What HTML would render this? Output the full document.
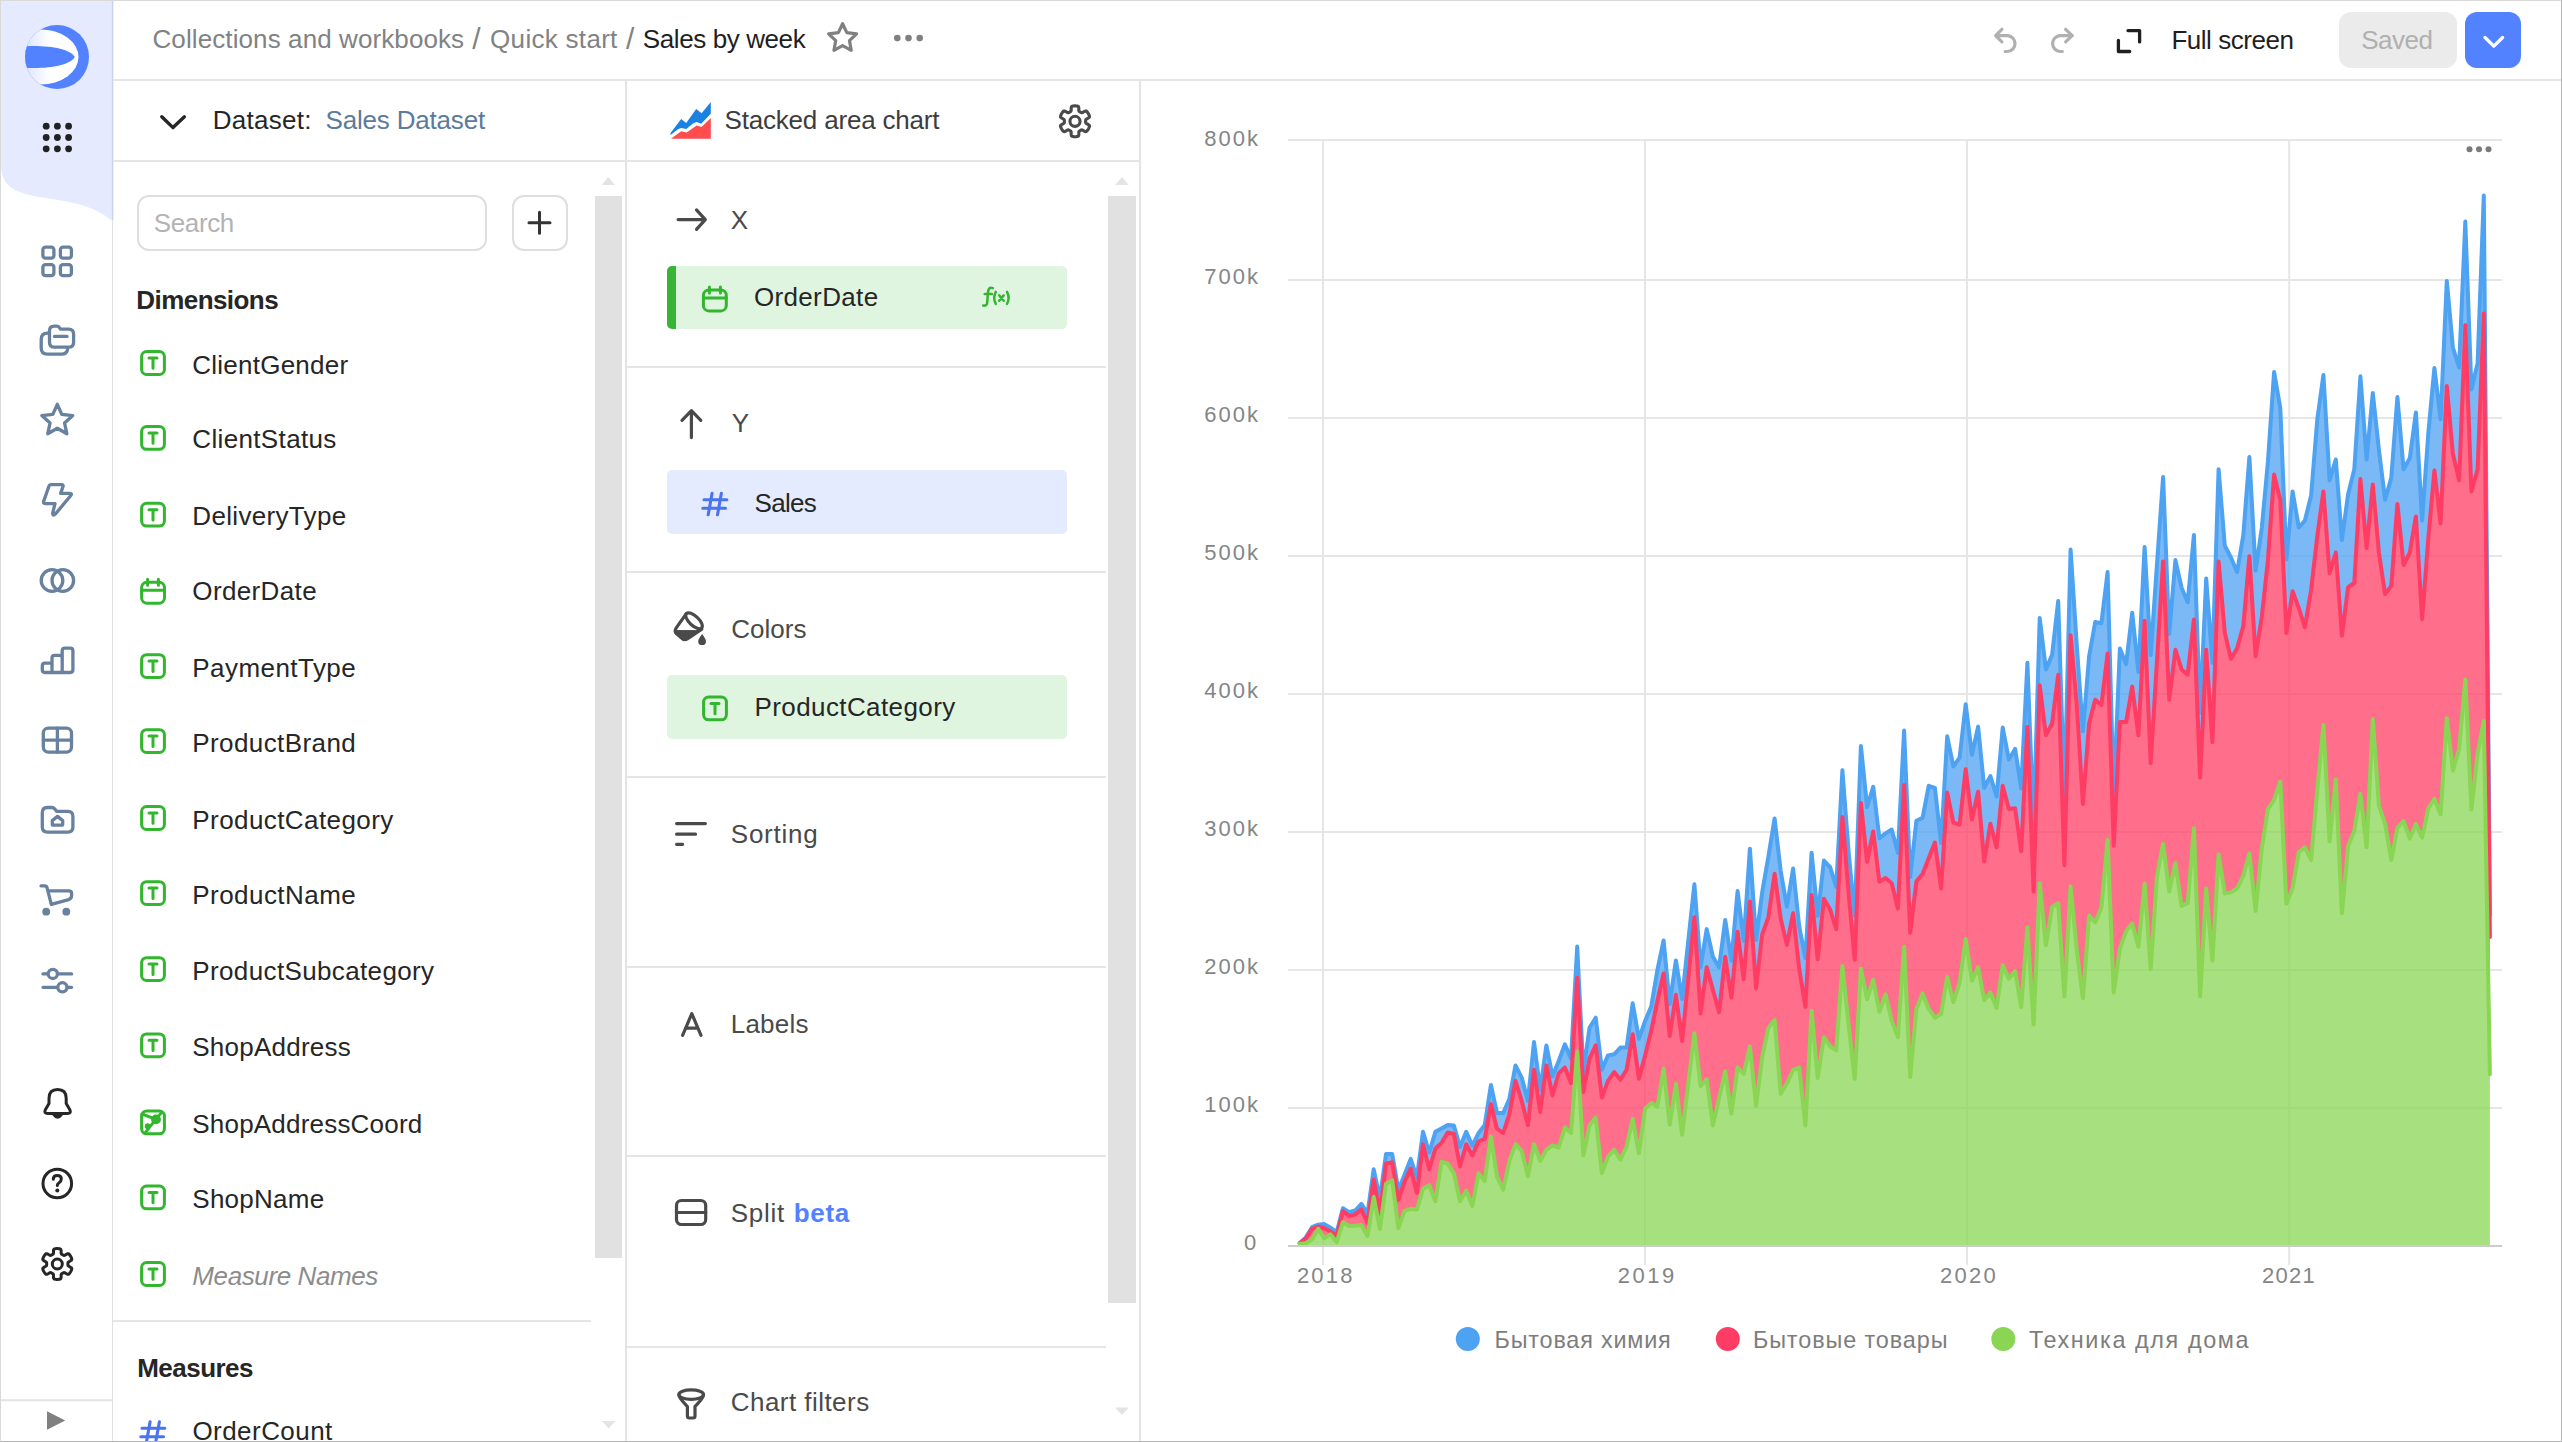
<!DOCTYPE html>
<html lang="en"><head><meta charset="utf-8"><title>Sales by week</title>
<style>
html,body{margin:0;padding:0;background:#fff}
body{width:2562px;height:1442px;overflow:hidden;font-family:"Liberation Sans",sans-serif}
#app{position:relative;width:2562px;height:1442px;overflow:hidden;background:#fff}
#app aside,#app header,#app section,#app main{position:static;display:block;margin:0;padding:0}
#app div,#app span,#app svg{position:absolute}
.t{white-space:nowrap;margin:0;padding:0}
svg.ic{overflow:visible}
.vline{top:81px;width:2px;height:1361px;background:#e3e3e3}
#railline{left:111.7px;top:0;width:1.7px;height:1442px;background:#e0e0e0}
#topline{left:113px;top:79px;width:2449px;height:2px;background:#e5e5e5}
#hdrline{left:113px;top:160px;width:1027px;height:2px;background:#e5e5e5}
#saved{left:2339px;top:12px;width:118px;height:56px;border-radius:12px;background:#ebebeb}
#savemore{left:2465px;top:12px;width:56px;height:56px;border-radius:12px;background:#5282ff}
#search{left:137px;top:195px;width:350px;height:56px;border-radius:12px;border:2px solid #dedede;box-sizing:border-box;background:#fff}
#addbtn{left:512px;top:195px;width:56px;height:56px;border-radius:12px;border:2px solid #dedede;box-sizing:border-box;background:#fff}
#frame{left:0;top:0;width:2562px;height:1442px;box-sizing:border-box;border:1px solid #d9d9d7;border-right-color:#b5b5b5;border-bottom-color:#b5b5b5;pointer-events:none}
</style></head>
<body>
<div id="app">
<aside id="rail">
<div id="railline"></div>
<svg class="ic" style="left:0;top:0" width="113" height="230" viewBox="0 0 113 230"><path d="M0,0H111.7V220.5C97,208 78,203 52,199C26,195 1,192 1,166V0Z" fill="#e5eaff"/><rect x="111.7" y="0" width="1.7" height="220" fill="#cdd3ea"/></svg>
</aside>
<header id="topbar">
<div id="topline"></div>
<span id="t0" class="t " style="left:152.5px;top:26.4px;font-size:26px;line-height:26px;color:#808285;letter-spacing:0.098px;">Collections and workbooks</span>
<span id="t1" class="t " style="left:472.2px;top:24.4px;font-size:30px;line-height:30px;color:#808285;">/</span>
<span id="t2" class="t " style="left:490.1px;top:26.4px;font-size:26px;line-height:26px;color:#808285;letter-spacing:0.299px;">Quick start</span>
<span id="t3" class="t " style="left:625.9px;top:24.4px;font-size:30px;line-height:30px;color:#808285;">/</span>
<span id="t4" class="t " style="left:642.8px;top:26.4px;font-size:26px;line-height:26px;color:#1f1f1f;letter-spacing:-0.401px;">Sales by week</span>
<span id="t5" class="t " style="left:2171.4px;top:27.1px;font-size:26px;line-height:26px;color:#1f1f1f;letter-spacing:-0.462px;">Full screen</span>
<div id="saved"></div>
<span id="t6" class="t " style="left:2361.3px;top:27.1px;font-size:26px;line-height:26px;color:#b0b0b0;letter-spacing:-0.524px;">Saved</span>
<div id="savemore"></div>
</header>
<section id="dataset">
<div class="vline" style="left:625px"></div>
<span id="t7" class="t " style="left:212.7px;top:106.8px;font-size:26px;line-height:26px;color:#262626;letter-spacing:0.273px;">Dataset:</span>
<span id="t8" class="t " style="left:325.5px;top:106.8px;font-size:26px;line-height:26px;color:#5a7b9c;letter-spacing:-0.186px;">Sales Dataset</span>
<div id="search"></div>
<span id="t9" class="t " style="left:153.8px;top:210.1px;font-size:26px;line-height:26px;color:#b3b3b3;letter-spacing:-0.370px;">Search</span>
<div id="addbtn"></div>
<span id="t10" class="t " style="left:136.3px;top:286.9px;font-size:26px;line-height:26px;color:#262626;font-weight:700;letter-spacing:-0.559px;">Dimensions</span>
<span id="t11" class="t " style="left:192.3px;top:351.5px;font-size:26px;line-height:26px;color:#262626;letter-spacing:0.240px;">ClientGender</span>
<span id="t12" class="t " style="left:192.3px;top:426.4px;font-size:26px;line-height:26px;color:#262626;letter-spacing:0.350px;">ClientStatus</span>
<span id="t13" class="t " style="left:192.3px;top:503.2px;font-size:26px;line-height:26px;color:#262626;letter-spacing:0.324px;">DeliveryType</span>
<span id="t14" class="t " style="left:192.3px;top:577.7px;font-size:26px;line-height:26px;color:#262626;letter-spacing:0.369px;">OrderDate</span>
<span id="t15" class="t " style="left:192.3px;top:654.6px;font-size:26px;line-height:26px;color:#262626;letter-spacing:0.446px;">PaymentType</span>
<span id="t16" class="t " style="left:192.3px;top:729.6px;font-size:26px;line-height:26px;color:#262626;letter-spacing:0.405px;">ProductBrand</span>
<span id="t17" class="t " style="left:192.3px;top:806.5px;font-size:26px;line-height:26px;color:#262626;letter-spacing:0.416px;">ProductCategory</span>
<span id="t18" class="t " style="left:192.3px;top:881.6px;font-size:26px;line-height:26px;color:#262626;letter-spacing:0.447px;">ProductName</span>
<span id="t19" class="t " style="left:192.3px;top:957.6px;font-size:26px;line-height:26px;color:#262626;letter-spacing:0.367px;">ProductSubcategory</span>
<span id="t20" class="t " style="left:192.3px;top:1033.8px;font-size:26px;line-height:26px;color:#262626;letter-spacing:0.233px;">ShopAddress</span>
<span id="t21" class="t " style="left:192.3px;top:1110.5px;font-size:26px;line-height:26px;color:#262626;letter-spacing:0.201px;">ShopAddressCoord</span>
<span id="t22" class="t " style="left:192.3px;top:1185.9px;font-size:26px;line-height:26px;color:#262626;letter-spacing:0.252px;">ShopName</span>
<span id="t23" class="t " style="left:192.3px;top:1262.5px;font-size:26px;line-height:26px;color:#8c8c8c;font-style:italic;letter-spacing:-0.391px;">Measure Names</span>
<div style="left:113px;top:1319.5px;width:478px;height:2px;background:#e5e5e5"></div>
<span id="t24" class="t " style="left:137.2px;top:1354.5px;font-size:26px;line-height:26px;color:#262626;font-weight:700;letter-spacing:-0.518px;">Measures</span>
<span id="t25" class="t " style="left:192.4px;top:1417.5px;font-size:26px;line-height:26px;color:#262626;letter-spacing:0.455px;">OrderCount</span>
<div style="left:594.5px;top:196px;width:27.5px;height:1061.5px;background:#e1e1e1"></div>
</section>
<section id="viz">
<div class="vline" style="left:1139px"></div>
<span id="t26" class="t " style="left:724.5px;top:107.0px;font-size:26px;line-height:26px;color:#3d3d3d;letter-spacing:-0.188px;">Stacked area chart</span>
<span id="t27" class="t " style="left:730.8px;top:206.6px;font-size:26px;line-height:26px;color:#4a4a4a;">X</span>
<div style="left:667px;top:266px;width:400px;height:63px;background:#e0f5e0;border-radius:5px;border-left:9px solid #38b538;box-sizing:border-box"></div>
<span id="t28" class="t " style="left:753.9px;top:284.4px;font-size:26px;line-height:26px;color:#262626;letter-spacing:0.356px;">OrderDate</span>
<span id="t29" class="t " style="left:731.8px;top:410.4px;font-size:26px;line-height:26px;color:#4a4a4a;">Y</span>
<div style="left:667px;top:470px;width:400px;height:64px;background:#e5ebff;border-radius:5px"></div>
<span id="t30" class="t " style="left:754.5px;top:490.0px;font-size:26px;line-height:26px;color:#262626;letter-spacing:-0.677px;">Sales</span>
<span id="t31" class="t " style="left:731.2px;top:615.8px;font-size:26px;line-height:26px;color:#4a4a4a;letter-spacing:0.020px;">Colors</span>
<div style="left:667px;top:675px;width:400px;height:64px;background:#e0f5e0;border-radius:5px"></div>
<span id="t32" class="t " style="left:754.5px;top:694.4px;font-size:26px;line-height:26px;color:#262626;letter-spacing:0.402px;">ProductCategory</span>
<span id="t33" class="t " style="left:730.8px;top:820.9px;font-size:26px;line-height:26px;color:#4a4a4a;letter-spacing:0.742px;">Sorting</span>
<span id="t34" class="t " style="left:730.8px;top:1010.5px;font-size:26px;line-height:26px;color:#4a4a4a;letter-spacing:0.203px;">Labels</span>
<span id="t35" class="t " style="left:730.8px;top:1200.1px;font-size:26px;line-height:26px;color:#4a4a4a;letter-spacing:0.690px;">Split</span>
<span id="t36" class="t " style="left:793.8px;top:1200.1px;font-size:26px;line-height:26px;color:#5282ff;font-weight:700;letter-spacing:0.690px;">beta</span>
<span id="t37" class="t " style="left:730.8px;top:1389.3px;font-size:26px;line-height:26px;color:#4a4a4a;letter-spacing:0.452px;">Chart filters</span>
<div style="left:627px;top:366px;width:478.5px;height:2px;background:#e5e5e5"></div>
<div style="left:627px;top:571px;width:478.5px;height:2px;background:#e5e5e5"></div>
<div style="left:627px;top:775.5px;width:478.5px;height:2px;background:#e5e5e5"></div>
<div style="left:627px;top:966px;width:478.5px;height:2px;background:#e5e5e5"></div>
<div style="left:627px;top:1155px;width:478.5px;height:2px;background:#e5e5e5"></div>
<div style="left:627px;top:1345.5px;width:478.5px;height:2px;background:#e5e5e5"></div>
<div style="left:1108px;top:196px;width:28px;height:1106.5px;background:#e1e1e1"></div>
</section>
<main id="chart">
<svg id="plot" style="left:1142px;top:82px" width="1418" height="1358" viewBox="1142 82 1418 1358">
<path d="M1288,140.0H2502" stroke="#e6e6e6" stroke-width="2"/>
<path d="M1288,280.0H2502" stroke="#e6e6e6" stroke-width="2"/>
<path d="M1288,418.0H2502" stroke="#e6e6e6" stroke-width="2"/>
<path d="M1288,556.0H2502" stroke="#e6e6e6" stroke-width="2"/>
<path d="M1288,694.0H2502" stroke="#e6e6e6" stroke-width="2"/>
<path d="M1288,832.0H2502" stroke="#e6e6e6" stroke-width="2"/>
<path d="M1288,970.0H2502" stroke="#e6e6e6" stroke-width="2"/>
<path d="M1288,1108.0H2502" stroke="#e6e6e6" stroke-width="2"/>
<path d="M1323,141V1265" stroke="#e6e6e6" stroke-width="2"/>
<path d="M1645,141V1265" stroke="#e6e6e6" stroke-width="2"/>
<path d="M1967,141V1265" stroke="#e6e6e6" stroke-width="2"/>
<path d="M2289.2,141V1265" stroke="#e6e6e6" stroke-width="2"/>
<polygon points="1299.7,1243.0 1305.9,1237.4 1312.0,1227.2 1318.2,1224.7 1324.4,1224.1 1330.5,1227.7 1336.7,1232.2 1342.9,1208.3 1349.0,1212.2 1355.2,1210.5 1361.4,1203.9 1367.5,1213.8 1373.7,1169.3 1379.9,1198.4 1386.0,1154.0 1392.2,1154.0 1398.4,1190.0 1404.5,1174.8 1410.7,1158.9 1416.9,1177.6 1423.0,1131.8 1429.2,1152.6 1435.4,1131.8 1441.5,1128.4 1447.7,1124.9 1453.9,1125.6 1460.0,1147.1 1466.2,1131.8 1472.4,1145.7 1478.5,1133.2 1484.7,1125.0 1490.9,1085.0 1497.0,1113.1 1503.2,1113.1 1509.4,1098.7 1515.5,1065.4 1521.7,1077.6 1527.9,1100.9 1534.0,1042.1 1540.2,1089.8 1546.4,1045.4 1552.5,1076.5 1558.7,1061.0 1564.9,1044.3 1571.0,1058.7 1577.2,946.6 1583.4,1072.1 1589.5,1027.7 1595.7,1017.7 1601.9,1069.8 1608.0,1055.4 1614.2,1054.3 1620.4,1047.6 1626.6,1047.6 1632.7,1003.3 1638.9,1038.8 1645.1,1021.0 1651.2,1006.6 1657.4,970.0 1663.6,940.5 1669.7,1004.0 1675.9,960.4 1682.1,999.0 1688.2,941.5 1694.4,884.3 1700.6,967.3 1706.7,929.1 1712.9,956.8 1719.1,967.3 1725.2,919.9 1731.4,960.7 1737.6,890.9 1743.7,941.0 1749.9,848.7 1756.1,939.7 1762.2,892.2 1768.4,856.7 1774.6,818.4 1780.7,871.1 1786.9,906.7 1793.1,868.5 1799.2,926.5 1805.4,958.1 1811.6,852.7 1817.7,915.9 1823.9,860.6 1830.1,867.2 1836.2,887.0 1842.4,770.3 1848.6,852.0 1854.7,915.9 1860.9,746.0 1867.1,807.2 1873.2,786.8 1879.4,838.3 1885.6,833.4 1891.7,829.5 1897.9,852.8 1904.1,730.5 1910.2,877.1 1916.4,820.8 1922.6,817.9 1928.7,785.8 1934.9,787.8 1941.1,843.1 1947.2,736.3 1953.4,766.4 1959.6,757.7 1965.7,704.3 1971.9,754.8 1978.1,726.6 1984.2,787.8 1990.4,776.1 1996.6,796.5 2002.7,727.6 2008.9,759.6 2015.1,748.9 2021.2,788.4 2027.4,662.8 2033.6,826.0 2039.7,618.1 2045.9,669.4 2052.1,654.9 2058.2,600.9 2064.4,796.0 2070.6,549.6 2076.7,644.4 2082.9,731.3 2089.1,656.3 2095.2,622.0 2101.4,623.3 2107.6,572.0 2113.7,796.3 2119.9,648.4 2126.1,664.2 2132.2,612.8 2138.4,672.1 2144.6,546.9 2150.7,655.0 2156.9,565.4 2163.1,477.1 2169.2,633.9 2175.4,560.1 2181.6,587.8 2187.7,602.3 2193.9,535.1 2200.1,713.0 2206.2,578.5 2212.4,662.8 2218.6,469.2 2224.8,545.6 2230.9,557.5 2237.1,572.0 2243.3,535.1 2249.4,457.0 2255.6,570.6 2261.8,528.0 2267.9,462.0 2274.1,372.1 2280.3,408.2 2286.4,559.4 2292.6,491.5 2298.8,527.5 2304.9,520.6 2311.1,495.6 2317.3,419.3 2323.4,374.9 2329.6,480.4 2335.8,459.5 2341.9,540.0 2348.1,494.2 2354.3,469.3 2360.4,376.3 2366.6,459.5 2372.8,393.0 2378.9,449.8 2385.1,499.8 2391.3,477.6 2397.4,397.1 2403.6,469.3 2409.8,458.2 2415.9,412.4 2422.1,520.6 2428.3,433.2 2434.4,368.0 2440.6,419.3 2446.8,280.9 2452.9,347.5 2459.1,367.5 2465.3,221.6 2471.4,389.4 2477.6,363.4 2483.8,195.6 2489.9,915.0 2489.9,937.0 2483.8,313.5 2477.6,469.3 2471.4,491.5 2465.3,325.0 2459.1,480.4 2452.9,454.0 2446.8,386.0 2440.6,523.4 2434.4,470.6 2428.3,538.6 2422.1,619.1 2415.9,516.4 2409.8,552.5 2403.6,565.0 2397.4,503.9 2391.3,585.8 2385.1,594.1 2378.9,552.5 2372.8,484.5 2366.6,548.3 2360.4,479.0 2354.3,583.0 2348.1,587.2 2341.9,635.7 2335.8,552.5 2329.6,573.3 2323.4,491.5 2317.3,535.9 2311.1,590.0 2304.9,627.4 2298.8,608.0 2292.6,591.3 2286.4,633.0 2280.3,500.0 2274.1,474.6 2267.9,560.5 2261.8,617.0 2255.6,656.3 2249.4,556.2 2243.3,626.0 2237.1,648.4 2230.9,658.9 2224.8,632.5 2218.6,561.4 2212.4,742.0 2206.2,649.7 2200.1,777.6 2193.9,619.4 2187.7,674.7 2181.6,669.4 2175.4,649.7 2169.2,699.7 2163.1,561.4 2156.9,662.0 2150.7,763.2 2144.6,620.7 2138.4,735.3 2132.2,686.6 2126.1,722.1 2119.9,722.1 2113.7,845.8 2107.6,653.6 2101.4,705.0 2095.2,699.7 2089.1,723.4 2082.9,804.0 2076.7,703.7 2070.6,635.2 2064.4,865.2 2058.2,674.7 2052.1,723.4 2045.9,735.3 2039.7,685.2 2033.6,891.6 2027.4,727.0 2021.2,851.3 2015.1,808.2 2008.9,809.1 2002.7,785.8 1996.6,847.4 1990.4,823.7 1984.2,861.5 1978.1,791.7 1971.9,819.8 1965.7,769.3 1959.6,824.7 1953.4,822.7 1947.2,792.6 1941.1,888.6 1934.9,842.5 1928.7,858.3 1922.6,874.0 1916.4,881.3 1910.2,932.8 1904.1,784.9 1897.9,908.5 1891.7,883.3 1885.6,878.0 1879.4,881.8 1873.2,831.5 1867.1,861.9 1860.9,803.0 1854.7,959.8 1848.6,893.0 1842.4,817.0 1836.2,929.1 1830.1,909.4 1823.9,898.8 1817.7,959.4 1811.6,894.9 1805.4,1006.9 1799.2,968.6 1793.1,913.3 1786.9,944.9 1780.7,918.6 1774.6,873.8 1768.4,917.3 1762.2,934.4 1756.1,988.4 1749.9,901.4 1743.7,979.2 1737.6,931.8 1731.4,997.6 1725.2,956.8 1719.1,1012.1 1712.9,989.7 1706.7,967.3 1700.6,1013.4 1694.4,917.3 1688.2,979.2 1682.1,1041.1 1675.9,994.7 1669.7,1036.0 1663.6,973.5 1657.4,1001.0 1651.2,1031.0 1645.1,1055.4 1638.9,1078.7 1632.7,1034.3 1626.6,1069.8 1620.4,1079.8 1614.2,1072.1 1608.0,1080.9 1601.9,1097.6 1595.7,1045.4 1589.5,1058.7 1583.4,1092.0 1577.2,977.7 1571.0,1083.2 1564.9,1067.6 1558.7,1073.2 1552.5,1095.4 1546.4,1065.4 1540.2,1112.0 1534.0,1069.8 1527.9,1125.3 1521.7,1100.9 1515.5,1080.9 1509.4,1114.2 1503.2,1133.1 1497.0,1128.7 1490.9,1104.0 1484.7,1138.8 1478.5,1141.5 1472.4,1155.4 1466.2,1144.3 1460.0,1166.5 1453.9,1133.9 1447.7,1132.5 1441.5,1142.9 1435.4,1148.5 1429.2,1169.3 1423.0,1144.3 1416.9,1192.9 1410.7,1168.6 1404.5,1181.8 1398.4,1199.8 1392.2,1162.3 1386.0,1163.7 1379.9,1213.7 1373.7,1179.7 1367.5,1223.3 1361.4,1209.4 1355.2,1214.4 1349.0,1216.1 1342.9,1211.1 1336.7,1236.0 1330.5,1231.6 1324.4,1228.3 1318.2,1226.6 1312.0,1228.8 1305.9,1238.3 1299.7,1243.3" fill="#4da2f1" fill-opacity="0.75"/>
<polyline points="1299.7,1243.0 1305.9,1237.4 1312.0,1227.2 1318.2,1224.7 1324.4,1224.1 1330.5,1227.7 1336.7,1232.2 1342.9,1208.3 1349.0,1212.2 1355.2,1210.5 1361.4,1203.9 1367.5,1213.8 1373.7,1169.3 1379.9,1198.4 1386.0,1154.0 1392.2,1154.0 1398.4,1190.0 1404.5,1174.8 1410.7,1158.9 1416.9,1177.6 1423.0,1131.8 1429.2,1152.6 1435.4,1131.8 1441.5,1128.4 1447.7,1124.9 1453.9,1125.6 1460.0,1147.1 1466.2,1131.8 1472.4,1145.7 1478.5,1133.2 1484.7,1125.0 1490.9,1085.0 1497.0,1113.1 1503.2,1113.1 1509.4,1098.7 1515.5,1065.4 1521.7,1077.6 1527.9,1100.9 1534.0,1042.1 1540.2,1089.8 1546.4,1045.4 1552.5,1076.5 1558.7,1061.0 1564.9,1044.3 1571.0,1058.7 1577.2,946.6 1583.4,1072.1 1589.5,1027.7 1595.7,1017.7 1601.9,1069.8 1608.0,1055.4 1614.2,1054.3 1620.4,1047.6 1626.6,1047.6 1632.7,1003.3 1638.9,1038.8 1645.1,1021.0 1651.2,1006.6 1657.4,970.0 1663.6,940.5 1669.7,1004.0 1675.9,960.4 1682.1,999.0 1688.2,941.5 1694.4,884.3 1700.6,967.3 1706.7,929.1 1712.9,956.8 1719.1,967.3 1725.2,919.9 1731.4,960.7 1737.6,890.9 1743.7,941.0 1749.9,848.7 1756.1,939.7 1762.2,892.2 1768.4,856.7 1774.6,818.4 1780.7,871.1 1786.9,906.7 1793.1,868.5 1799.2,926.5 1805.4,958.1 1811.6,852.7 1817.7,915.9 1823.9,860.6 1830.1,867.2 1836.2,887.0 1842.4,770.3 1848.6,852.0 1854.7,915.9 1860.9,746.0 1867.1,807.2 1873.2,786.8 1879.4,838.3 1885.6,833.4 1891.7,829.5 1897.9,852.8 1904.1,730.5 1910.2,877.1 1916.4,820.8 1922.6,817.9 1928.7,785.8 1934.9,787.8 1941.1,843.1 1947.2,736.3 1953.4,766.4 1959.6,757.7 1965.7,704.3 1971.9,754.8 1978.1,726.6 1984.2,787.8 1990.4,776.1 1996.6,796.5 2002.7,727.6 2008.9,759.6 2015.1,748.9 2021.2,788.4 2027.4,662.8 2033.6,826.0 2039.7,618.1 2045.9,669.4 2052.1,654.9 2058.2,600.9 2064.4,796.0 2070.6,549.6 2076.7,644.4 2082.9,731.3 2089.1,656.3 2095.2,622.0 2101.4,623.3 2107.6,572.0 2113.7,796.3 2119.9,648.4 2126.1,664.2 2132.2,612.8 2138.4,672.1 2144.6,546.9 2150.7,655.0 2156.9,565.4 2163.1,477.1 2169.2,633.9 2175.4,560.1 2181.6,587.8 2187.7,602.3 2193.9,535.1 2200.1,713.0 2206.2,578.5 2212.4,662.8 2218.6,469.2 2224.8,545.6 2230.9,557.5 2237.1,572.0 2243.3,535.1 2249.4,457.0 2255.6,570.6 2261.8,528.0 2267.9,462.0 2274.1,372.1 2280.3,408.2 2286.4,559.4 2292.6,491.5 2298.8,527.5 2304.9,520.6 2311.1,495.6 2317.3,419.3 2323.4,374.9 2329.6,480.4 2335.8,459.5 2341.9,540.0 2348.1,494.2 2354.3,469.3 2360.4,376.3 2366.6,459.5 2372.8,393.0 2378.9,449.8 2385.1,499.8 2391.3,477.6 2397.4,397.1 2403.6,469.3 2409.8,458.2 2415.9,412.4 2422.1,520.6 2428.3,433.2 2434.4,368.0 2440.6,419.3 2446.8,280.9 2452.9,347.5 2459.1,367.5 2465.3,221.6 2471.4,389.4 2477.6,363.4 2483.8,195.6 2489.9,915.0" fill="none" stroke="#4da2f1" stroke-width="4" stroke-linejoin="round" stroke-linecap="round"/>
<polygon points="1299.7,1243.3 1305.9,1238.3 1312.0,1228.8 1318.2,1226.6 1324.4,1228.3 1330.5,1231.6 1336.7,1236.0 1342.9,1211.1 1349.0,1216.1 1355.2,1214.4 1361.4,1209.4 1367.5,1223.3 1373.7,1179.7 1379.9,1213.7 1386.0,1163.7 1392.2,1162.3 1398.4,1199.8 1404.5,1181.8 1410.7,1168.6 1416.9,1192.9 1423.0,1144.3 1429.2,1169.3 1435.4,1148.5 1441.5,1142.9 1447.7,1132.5 1453.9,1133.9 1460.0,1166.5 1466.2,1144.3 1472.4,1155.4 1478.5,1141.5 1484.7,1138.8 1490.9,1104.0 1497.0,1128.7 1503.2,1133.1 1509.4,1114.2 1515.5,1080.9 1521.7,1100.9 1527.9,1125.3 1534.0,1069.8 1540.2,1112.0 1546.4,1065.4 1552.5,1095.4 1558.7,1073.2 1564.9,1067.6 1571.0,1083.2 1577.2,977.7 1583.4,1092.0 1589.5,1058.7 1595.7,1045.4 1601.9,1097.6 1608.0,1080.9 1614.2,1072.1 1620.4,1079.8 1626.6,1069.8 1632.7,1034.3 1638.9,1078.7 1645.1,1055.4 1651.2,1031.0 1657.4,1001.0 1663.6,973.5 1669.7,1036.0 1675.9,994.7 1682.1,1041.1 1688.2,979.2 1694.4,917.3 1700.6,1013.4 1706.7,967.3 1712.9,989.7 1719.1,1012.1 1725.2,956.8 1731.4,997.6 1737.6,931.8 1743.7,979.2 1749.9,901.4 1756.1,988.4 1762.2,934.4 1768.4,917.3 1774.6,873.8 1780.7,918.6 1786.9,944.9 1793.1,913.3 1799.2,968.6 1805.4,1006.9 1811.6,894.9 1817.7,959.4 1823.9,898.8 1830.1,909.4 1836.2,929.1 1842.4,817.0 1848.6,893.0 1854.7,959.8 1860.9,803.0 1867.1,861.9 1873.2,831.5 1879.4,881.8 1885.6,878.0 1891.7,883.3 1897.9,908.5 1904.1,784.9 1910.2,932.8 1916.4,881.3 1922.6,874.0 1928.7,858.3 1934.9,842.5 1941.1,888.6 1947.2,792.6 1953.4,822.7 1959.6,824.7 1965.7,769.3 1971.9,819.8 1978.1,791.7 1984.2,861.5 1990.4,823.7 1996.6,847.4 2002.7,785.8 2008.9,809.1 2015.1,808.2 2021.2,851.3 2027.4,727.0 2033.6,891.6 2039.7,685.2 2045.9,735.3 2052.1,723.4 2058.2,674.7 2064.4,865.2 2070.6,635.2 2076.7,703.7 2082.9,804.0 2089.1,723.4 2095.2,699.7 2101.4,705.0 2107.6,653.6 2113.7,845.8 2119.9,722.1 2126.1,722.1 2132.2,686.6 2138.4,735.3 2144.6,620.7 2150.7,763.2 2156.9,662.0 2163.1,561.4 2169.2,699.7 2175.4,649.7 2181.6,669.4 2187.7,674.7 2193.9,619.4 2200.1,777.6 2206.2,649.7 2212.4,742.0 2218.6,561.4 2224.8,632.5 2230.9,658.9 2237.1,648.4 2243.3,626.0 2249.4,556.2 2255.6,656.3 2261.8,617.0 2267.9,560.5 2274.1,474.6 2280.3,500.0 2286.4,633.0 2292.6,591.3 2298.8,608.0 2304.9,627.4 2311.1,590.0 2317.3,535.9 2323.4,491.5 2329.6,573.3 2335.8,552.5 2341.9,635.7 2348.1,587.2 2354.3,583.0 2360.4,479.0 2366.6,548.3 2372.8,484.5 2378.9,552.5 2385.1,594.1 2391.3,585.8 2397.4,503.9 2403.6,565.0 2409.8,552.5 2415.9,516.4 2422.1,619.1 2428.3,538.6 2434.4,470.6 2440.6,523.4 2446.8,386.0 2452.9,454.0 2459.1,480.4 2465.3,325.0 2471.4,491.5 2477.6,469.3 2483.8,313.5 2489.9,937.0 2489.9,1074.3 2483.8,721.1 2477.6,753.2 2471.4,809.5 2465.3,679.4 2459.1,749.3 2452.9,770.6 2446.8,718.2 2440.6,814.3 2434.4,798.8 2428.3,808.5 2422.1,837.6 2415.9,824.0 2409.8,838.6 2403.6,821.1 2397.4,827.9 2391.3,859.9 2385.1,824.0 2378.9,805.6 2372.8,719.2 2366.6,847.3 2360.4,793.9 2354.3,830.8 2348.1,846.3 2341.9,913.3 2335.8,779.4 2329.6,841.5 2323.4,725.0 2317.3,790.0 2311.1,859.9 2304.9,847.3 2298.8,852.2 2292.6,888.1 2286.4,903.6 2280.3,781.5 2274.1,800.0 2267.9,809.2 2261.8,848.0 2255.6,910.9 2249.4,853.6 2243.3,875.9 2237.1,888.5 2230.9,892.4 2224.8,893.4 2218.6,854.6 2212.4,960.4 2206.2,888.5 2200.1,996.3 2193.9,828.3 2187.7,903.1 2181.6,906.0 2175.4,863.3 2169.2,891.5 2163.1,843.9 2156.9,876.9 2150.7,969.1 2144.6,883.7 2138.4,946.8 2132.2,923.5 2126.1,931.3 2119.9,948.7 2113.7,992.4 2107.6,840.0 2101.4,907.5 2095.2,922.5 2089.1,915.7 2082.9,998.3 2076.7,949.2 2070.6,886.6 2064.4,996.3 2058.2,903.1 2052.1,907.0 2045.9,945.3 2039.7,883.2 2033.6,1024.5 2027.4,927.4 2021.2,1007.0 2015.1,971.1 2008.9,978.8 2002.7,965.2 1996.6,1008.0 1990.4,992.4 1984.2,1000.2 1978.1,967.2 1971.9,980.8 1965.7,939.0 1959.6,982.7 1953.4,1002.1 1947.2,976.9 1941.1,1013.8 1934.9,1017.7 1928.7,1008.9 1922.6,993.4 1916.4,1008.9 1910.2,1076.9 1904.1,946.8 1897.9,1037.1 1891.7,1020.6 1885.6,994.4 1879.4,1011.8 1873.2,979.8 1867.1,999.2 1860.9,968.4 1854.7,1079.0 1848.6,1024.5 1842.4,966.0 1836.2,1050.3 1830.1,1046.4 1823.9,1037.2 1817.7,1078.0 1811.6,1010.8 1805.4,1125.4 1799.2,1067.5 1793.1,1070.1 1786.9,1083.3 1780.7,1093.8 1774.6,1020.0 1768.4,1027.9 1762.2,1056.9 1756.1,1105.7 1749.9,1046.4 1743.7,1074.0 1737.6,1067.5 1731.4,1113.6 1725.2,1071.4 1719.1,1097.8 1712.9,1125.4 1706.7,1079.3 1700.6,1085.9 1694.4,1033.2 1688.2,1084.0 1682.1,1134.7 1675.9,1084.0 1669.7,1124.7 1663.6,1068.7 1657.4,1106.5 1651.2,1103.1 1645.1,1108.7 1638.9,1153.1 1632.7,1118.7 1626.6,1146.4 1620.4,1159.7 1614.2,1149.8 1608.0,1156.4 1601.9,1173.1 1595.7,1117.6 1589.5,1125.3 1583.4,1155.3 1577.2,1052.1 1571.0,1133.1 1564.9,1127.6 1558.7,1147.5 1552.5,1145.3 1546.4,1149.8 1540.2,1160.9 1534.0,1144.2 1527.9,1176.4 1521.7,1150.9 1515.5,1144.2 1509.4,1160.9 1503.2,1189.7 1497.0,1176.4 1490.9,1136.4 1484.7,1181.1 1478.5,1173.4 1472.4,1206.0 1466.2,1190.8 1460.0,1201.2 1453.9,1173.4 1447.7,1163.7 1441.5,1161.7 1435.4,1201.2 1429.2,1185.2 1423.0,1188.7 1416.9,1209.5 1410.7,1208.8 1404.5,1210.9 1398.4,1228.2 1392.2,1180.4 1386.0,1183.8 1379.9,1228.9 1373.7,1197.0 1367.5,1236.0 1361.4,1224.9 1355.2,1225.8 1349.0,1226.0 1342.9,1222.2 1336.7,1242.1 1330.5,1234.4 1324.4,1238.3 1318.2,1228.8 1312.0,1239.4 1305.9,1243.3 1299.7,1243.8" fill="#ff3d64" fill-opacity="0.75"/>
<polyline points="1299.7,1243.3 1305.9,1238.3 1312.0,1228.8 1318.2,1226.6 1324.4,1228.3 1330.5,1231.6 1336.7,1236.0 1342.9,1211.1 1349.0,1216.1 1355.2,1214.4 1361.4,1209.4 1367.5,1223.3 1373.7,1179.7 1379.9,1213.7 1386.0,1163.7 1392.2,1162.3 1398.4,1199.8 1404.5,1181.8 1410.7,1168.6 1416.9,1192.9 1423.0,1144.3 1429.2,1169.3 1435.4,1148.5 1441.5,1142.9 1447.7,1132.5 1453.9,1133.9 1460.0,1166.5 1466.2,1144.3 1472.4,1155.4 1478.5,1141.5 1484.7,1138.8 1490.9,1104.0 1497.0,1128.7 1503.2,1133.1 1509.4,1114.2 1515.5,1080.9 1521.7,1100.9 1527.9,1125.3 1534.0,1069.8 1540.2,1112.0 1546.4,1065.4 1552.5,1095.4 1558.7,1073.2 1564.9,1067.6 1571.0,1083.2 1577.2,977.7 1583.4,1092.0 1589.5,1058.7 1595.7,1045.4 1601.9,1097.6 1608.0,1080.9 1614.2,1072.1 1620.4,1079.8 1626.6,1069.8 1632.7,1034.3 1638.9,1078.7 1645.1,1055.4 1651.2,1031.0 1657.4,1001.0 1663.6,973.5 1669.7,1036.0 1675.9,994.7 1682.1,1041.1 1688.2,979.2 1694.4,917.3 1700.6,1013.4 1706.7,967.3 1712.9,989.7 1719.1,1012.1 1725.2,956.8 1731.4,997.6 1737.6,931.8 1743.7,979.2 1749.9,901.4 1756.1,988.4 1762.2,934.4 1768.4,917.3 1774.6,873.8 1780.7,918.6 1786.9,944.9 1793.1,913.3 1799.2,968.6 1805.4,1006.9 1811.6,894.9 1817.7,959.4 1823.9,898.8 1830.1,909.4 1836.2,929.1 1842.4,817.0 1848.6,893.0 1854.7,959.8 1860.9,803.0 1867.1,861.9 1873.2,831.5 1879.4,881.8 1885.6,878.0 1891.7,883.3 1897.9,908.5 1904.1,784.9 1910.2,932.8 1916.4,881.3 1922.6,874.0 1928.7,858.3 1934.9,842.5 1941.1,888.6 1947.2,792.6 1953.4,822.7 1959.6,824.7 1965.7,769.3 1971.9,819.8 1978.1,791.7 1984.2,861.5 1990.4,823.7 1996.6,847.4 2002.7,785.8 2008.9,809.1 2015.1,808.2 2021.2,851.3 2027.4,727.0 2033.6,891.6 2039.7,685.2 2045.9,735.3 2052.1,723.4 2058.2,674.7 2064.4,865.2 2070.6,635.2 2076.7,703.7 2082.9,804.0 2089.1,723.4 2095.2,699.7 2101.4,705.0 2107.6,653.6 2113.7,845.8 2119.9,722.1 2126.1,722.1 2132.2,686.6 2138.4,735.3 2144.6,620.7 2150.7,763.2 2156.9,662.0 2163.1,561.4 2169.2,699.7 2175.4,649.7 2181.6,669.4 2187.7,674.7 2193.9,619.4 2200.1,777.6 2206.2,649.7 2212.4,742.0 2218.6,561.4 2224.8,632.5 2230.9,658.9 2237.1,648.4 2243.3,626.0 2249.4,556.2 2255.6,656.3 2261.8,617.0 2267.9,560.5 2274.1,474.6 2280.3,500.0 2286.4,633.0 2292.6,591.3 2298.8,608.0 2304.9,627.4 2311.1,590.0 2317.3,535.9 2323.4,491.5 2329.6,573.3 2335.8,552.5 2341.9,635.7 2348.1,587.2 2354.3,583.0 2360.4,479.0 2366.6,548.3 2372.8,484.5 2378.9,552.5 2385.1,594.1 2391.3,585.8 2397.4,503.9 2403.6,565.0 2409.8,552.5 2415.9,516.4 2422.1,619.1 2428.3,538.6 2434.4,470.6 2440.6,523.4 2446.8,386.0 2452.9,454.0 2459.1,480.4 2465.3,325.0 2471.4,491.5 2477.6,469.3 2483.8,313.5 2489.9,937.0" fill="none" stroke="#ff3d64" stroke-width="4" stroke-linejoin="round" stroke-linecap="round"/>
<polygon points="1299.7,1243.8 1305.9,1243.3 1312.0,1239.4 1318.2,1228.8 1324.4,1238.3 1330.5,1234.4 1336.7,1242.1 1342.9,1222.2 1349.0,1226.0 1355.2,1225.8 1361.4,1224.9 1367.5,1236.0 1373.7,1197.0 1379.9,1228.9 1386.0,1183.8 1392.2,1180.4 1398.4,1228.2 1404.5,1210.9 1410.7,1208.8 1416.9,1209.5 1423.0,1188.7 1429.2,1185.2 1435.4,1201.2 1441.5,1161.7 1447.7,1163.7 1453.9,1173.4 1460.0,1201.2 1466.2,1190.8 1472.4,1206.0 1478.5,1173.4 1484.7,1181.1 1490.9,1136.4 1497.0,1176.4 1503.2,1189.7 1509.4,1160.9 1515.5,1144.2 1521.7,1150.9 1527.9,1176.4 1534.0,1144.2 1540.2,1160.9 1546.4,1149.8 1552.5,1145.3 1558.7,1147.5 1564.9,1127.6 1571.0,1133.1 1577.2,1052.1 1583.4,1155.3 1589.5,1125.3 1595.7,1117.6 1601.9,1173.1 1608.0,1156.4 1614.2,1149.8 1620.4,1159.7 1626.6,1146.4 1632.7,1118.7 1638.9,1153.1 1645.1,1108.7 1651.2,1103.1 1657.4,1106.5 1663.6,1068.7 1669.7,1124.7 1675.9,1084.0 1682.1,1134.7 1688.2,1084.0 1694.4,1033.2 1700.6,1085.9 1706.7,1079.3 1712.9,1125.4 1719.1,1097.8 1725.2,1071.4 1731.4,1113.6 1737.6,1067.5 1743.7,1074.0 1749.9,1046.4 1756.1,1105.7 1762.2,1056.9 1768.4,1027.9 1774.6,1020.0 1780.7,1093.8 1786.9,1083.3 1793.1,1070.1 1799.2,1067.5 1805.4,1125.4 1811.6,1010.8 1817.7,1078.0 1823.9,1037.2 1830.1,1046.4 1836.2,1050.3 1842.4,966.0 1848.6,1024.5 1854.7,1079.0 1860.9,968.4 1867.1,999.2 1873.2,979.8 1879.4,1011.8 1885.6,994.4 1891.7,1020.6 1897.9,1037.1 1904.1,946.8 1910.2,1076.9 1916.4,1008.9 1922.6,993.4 1928.7,1008.9 1934.9,1017.7 1941.1,1013.8 1947.2,976.9 1953.4,1002.1 1959.6,982.7 1965.7,939.0 1971.9,980.8 1978.1,967.2 1984.2,1000.2 1990.4,992.4 1996.6,1008.0 2002.7,965.2 2008.9,978.8 2015.1,971.1 2021.2,1007.0 2027.4,927.4 2033.6,1024.5 2039.7,883.2 2045.9,945.3 2052.1,907.0 2058.2,903.1 2064.4,996.3 2070.6,886.6 2076.7,949.2 2082.9,998.3 2089.1,915.7 2095.2,922.5 2101.4,907.5 2107.6,840.0 2113.7,992.4 2119.9,948.7 2126.1,931.3 2132.2,923.5 2138.4,946.8 2144.6,883.7 2150.7,969.1 2156.9,876.9 2163.1,843.9 2169.2,891.5 2175.4,863.3 2181.6,906.0 2187.7,903.1 2193.9,828.3 2200.1,996.3 2206.2,888.5 2212.4,960.4 2218.6,854.6 2224.8,893.4 2230.9,892.4 2237.1,888.5 2243.3,875.9 2249.4,853.6 2255.6,910.9 2261.8,848.0 2267.9,809.2 2274.1,800.0 2280.3,781.5 2286.4,903.6 2292.6,888.1 2298.8,852.2 2304.9,847.3 2311.1,859.9 2317.3,790.0 2323.4,725.0 2329.6,841.5 2335.8,779.4 2341.9,913.3 2348.1,846.3 2354.3,830.8 2360.4,793.9 2366.6,847.3 2372.8,719.2 2378.9,805.6 2385.1,824.0 2391.3,859.9 2397.4,827.9 2403.6,821.1 2409.8,838.6 2415.9,824.0 2422.1,837.6 2428.3,808.5 2434.4,798.8 2440.6,814.3 2446.8,718.2 2452.9,770.6 2459.1,749.3 2465.3,679.4 2471.4,809.5 2477.6,753.2 2483.8,721.1 2489.9,1074.3 2489.9,1245.2 2483.8,1245.2 2477.6,1245.2 2471.4,1245.2 2465.3,1245.2 2459.1,1245.2 2452.9,1245.2 2446.8,1245.2 2440.6,1245.2 2434.4,1245.2 2428.3,1245.2 2422.1,1245.2 2415.9,1245.2 2409.8,1245.2 2403.6,1245.2 2397.4,1245.2 2391.3,1245.2 2385.1,1245.2 2378.9,1245.2 2372.8,1245.2 2366.6,1245.2 2360.4,1245.2 2354.3,1245.2 2348.1,1245.2 2341.9,1245.2 2335.8,1245.2 2329.6,1245.2 2323.4,1245.2 2317.3,1245.2 2311.1,1245.2 2304.9,1245.2 2298.8,1245.2 2292.6,1245.2 2286.4,1245.2 2280.3,1245.2 2274.1,1245.2 2267.9,1245.2 2261.8,1245.2 2255.6,1245.2 2249.4,1245.2 2243.3,1245.2 2237.1,1245.2 2230.9,1245.2 2224.8,1245.2 2218.6,1245.2 2212.4,1245.2 2206.2,1245.2 2200.1,1245.2 2193.9,1245.2 2187.7,1245.2 2181.6,1245.2 2175.4,1245.2 2169.2,1245.2 2163.1,1245.2 2156.9,1245.2 2150.7,1245.2 2144.6,1245.2 2138.4,1245.2 2132.2,1245.2 2126.1,1245.2 2119.9,1245.2 2113.7,1245.2 2107.6,1245.2 2101.4,1245.2 2095.2,1245.2 2089.1,1245.2 2082.9,1245.2 2076.7,1245.2 2070.6,1245.2 2064.4,1245.2 2058.2,1245.2 2052.1,1245.2 2045.9,1245.2 2039.7,1245.2 2033.6,1245.2 2027.4,1245.2 2021.2,1245.2 2015.1,1245.2 2008.9,1245.2 2002.7,1245.2 1996.6,1245.2 1990.4,1245.2 1984.2,1245.2 1978.1,1245.2 1971.9,1245.2 1965.7,1245.2 1959.6,1245.2 1953.4,1245.2 1947.2,1245.2 1941.1,1245.2 1934.9,1245.2 1928.7,1245.2 1922.6,1245.2 1916.4,1245.2 1910.2,1245.2 1904.1,1245.2 1897.9,1245.2 1891.7,1245.2 1885.6,1245.2 1879.4,1245.2 1873.2,1245.2 1867.1,1245.2 1860.9,1245.2 1854.7,1245.2 1848.6,1245.2 1842.4,1245.2 1836.2,1245.2 1830.1,1245.2 1823.9,1245.2 1817.7,1245.2 1811.6,1245.2 1805.4,1245.2 1799.2,1245.2 1793.1,1245.2 1786.9,1245.2 1780.7,1245.2 1774.6,1245.2 1768.4,1245.2 1762.2,1245.2 1756.1,1245.2 1749.9,1245.2 1743.7,1245.2 1737.6,1245.2 1731.4,1245.2 1725.2,1245.2 1719.1,1245.2 1712.9,1245.2 1706.7,1245.2 1700.6,1245.2 1694.4,1245.2 1688.2,1245.2 1682.1,1245.2 1675.9,1245.2 1669.7,1245.2 1663.6,1245.2 1657.4,1245.2 1651.2,1245.2 1645.1,1245.2 1638.9,1245.2 1632.7,1245.2 1626.6,1245.2 1620.4,1245.2 1614.2,1245.2 1608.0,1245.2 1601.9,1245.2 1595.7,1245.2 1589.5,1245.2 1583.4,1245.2 1577.2,1245.2 1571.0,1245.2 1564.9,1245.2 1558.7,1245.2 1552.5,1245.2 1546.4,1245.2 1540.2,1245.2 1534.0,1245.2 1527.9,1245.2 1521.7,1245.2 1515.5,1245.2 1509.4,1245.2 1503.2,1245.2 1497.0,1245.2 1490.9,1245.2 1484.7,1245.2 1478.5,1245.2 1472.4,1245.2 1466.2,1245.2 1460.0,1245.2 1453.9,1245.2 1447.7,1245.2 1441.5,1245.2 1435.4,1245.2 1429.2,1245.2 1423.0,1245.2 1416.9,1245.2 1410.7,1245.2 1404.5,1245.2 1398.4,1245.2 1392.2,1245.2 1386.0,1245.2 1379.9,1245.2 1373.7,1245.2 1367.5,1245.2 1361.4,1245.2 1355.2,1245.2 1349.0,1245.2 1342.9,1245.2 1336.7,1245.2 1330.5,1245.2 1324.4,1245.2 1318.2,1245.2 1312.0,1245.2 1305.9,1245.2 1299.7,1245.2" fill="#8ad554" fill-opacity="0.75"/>
<polyline points="1299.7,1243.8 1305.9,1243.3 1312.0,1239.4 1318.2,1228.8 1324.4,1238.3 1330.5,1234.4 1336.7,1242.1 1342.9,1222.2 1349.0,1226.0 1355.2,1225.8 1361.4,1224.9 1367.5,1236.0 1373.7,1197.0 1379.9,1228.9 1386.0,1183.8 1392.2,1180.4 1398.4,1228.2 1404.5,1210.9 1410.7,1208.8 1416.9,1209.5 1423.0,1188.7 1429.2,1185.2 1435.4,1201.2 1441.5,1161.7 1447.7,1163.7 1453.9,1173.4 1460.0,1201.2 1466.2,1190.8 1472.4,1206.0 1478.5,1173.4 1484.7,1181.1 1490.9,1136.4 1497.0,1176.4 1503.2,1189.7 1509.4,1160.9 1515.5,1144.2 1521.7,1150.9 1527.9,1176.4 1534.0,1144.2 1540.2,1160.9 1546.4,1149.8 1552.5,1145.3 1558.7,1147.5 1564.9,1127.6 1571.0,1133.1 1577.2,1052.1 1583.4,1155.3 1589.5,1125.3 1595.7,1117.6 1601.9,1173.1 1608.0,1156.4 1614.2,1149.8 1620.4,1159.7 1626.6,1146.4 1632.7,1118.7 1638.9,1153.1 1645.1,1108.7 1651.2,1103.1 1657.4,1106.5 1663.6,1068.7 1669.7,1124.7 1675.9,1084.0 1682.1,1134.7 1688.2,1084.0 1694.4,1033.2 1700.6,1085.9 1706.7,1079.3 1712.9,1125.4 1719.1,1097.8 1725.2,1071.4 1731.4,1113.6 1737.6,1067.5 1743.7,1074.0 1749.9,1046.4 1756.1,1105.7 1762.2,1056.9 1768.4,1027.9 1774.6,1020.0 1780.7,1093.8 1786.9,1083.3 1793.1,1070.1 1799.2,1067.5 1805.4,1125.4 1811.6,1010.8 1817.7,1078.0 1823.9,1037.2 1830.1,1046.4 1836.2,1050.3 1842.4,966.0 1848.6,1024.5 1854.7,1079.0 1860.9,968.4 1867.1,999.2 1873.2,979.8 1879.4,1011.8 1885.6,994.4 1891.7,1020.6 1897.9,1037.1 1904.1,946.8 1910.2,1076.9 1916.4,1008.9 1922.6,993.4 1928.7,1008.9 1934.9,1017.7 1941.1,1013.8 1947.2,976.9 1953.4,1002.1 1959.6,982.7 1965.7,939.0 1971.9,980.8 1978.1,967.2 1984.2,1000.2 1990.4,992.4 1996.6,1008.0 2002.7,965.2 2008.9,978.8 2015.1,971.1 2021.2,1007.0 2027.4,927.4 2033.6,1024.5 2039.7,883.2 2045.9,945.3 2052.1,907.0 2058.2,903.1 2064.4,996.3 2070.6,886.6 2076.7,949.2 2082.9,998.3 2089.1,915.7 2095.2,922.5 2101.4,907.5 2107.6,840.0 2113.7,992.4 2119.9,948.7 2126.1,931.3 2132.2,923.5 2138.4,946.8 2144.6,883.7 2150.7,969.1 2156.9,876.9 2163.1,843.9 2169.2,891.5 2175.4,863.3 2181.6,906.0 2187.7,903.1 2193.9,828.3 2200.1,996.3 2206.2,888.5 2212.4,960.4 2218.6,854.6 2224.8,893.4 2230.9,892.4 2237.1,888.5 2243.3,875.9 2249.4,853.6 2255.6,910.9 2261.8,848.0 2267.9,809.2 2274.1,800.0 2280.3,781.5 2286.4,903.6 2292.6,888.1 2298.8,852.2 2304.9,847.3 2311.1,859.9 2317.3,790.0 2323.4,725.0 2329.6,841.5 2335.8,779.4 2341.9,913.3 2348.1,846.3 2354.3,830.8 2360.4,793.9 2366.6,847.3 2372.8,719.2 2378.9,805.6 2385.1,824.0 2391.3,859.9 2397.4,827.9 2403.6,821.1 2409.8,838.6 2415.9,824.0 2422.1,837.6 2428.3,808.5 2434.4,798.8 2440.6,814.3 2446.8,718.2 2452.9,770.6 2459.1,749.3 2465.3,679.4 2471.4,809.5 2477.6,753.2 2483.8,721.1 2489.9,1074.3" fill="none" stroke="#8ad554" stroke-width="4" stroke-linejoin="round" stroke-linecap="round"/>
<path d="M1288,1246H2502" stroke="#cccccc" stroke-width="2"/>
<circle cx="1467.8" cy="1338.9" r="12" fill="#4da2f1"/>
<circle cx="1727.8" cy="1338.9" r="12" fill="#ff3d64"/>
<circle cx="2003.3" cy="1338.9" r="12" fill="#8ad554"/>
<circle cx="2469.5" cy="149.3" r="3" fill="#7a7a7a"/>
<circle cx="2479" cy="149.3" r="3" fill="#7a7a7a"/>
<circle cx="2488.5" cy="149.3" r="3" fill="#7a7a7a"/>
</svg>
<span id="t38" class="t ax" style="left:1204.2px;top:128.2px;font-size:22px;line-height:22px;color:#858585;letter-spacing:2.020px;">800k</span>
<span id="t39" class="t ax" style="left:1204.2px;top:266.1px;font-size:22px;line-height:22px;color:#858585;letter-spacing:2.020px;">700k</span>
<span id="t40" class="t ax" style="left:1204.2px;top:404.1px;font-size:22px;line-height:22px;color:#858585;letter-spacing:2.020px;">600k</span>
<span id="t41" class="t ax" style="left:1204.2px;top:542.1px;font-size:22px;line-height:22px;color:#858585;letter-spacing:2.020px;">500k</span>
<span id="t42" class="t ax" style="left:1204.2px;top:680.1px;font-size:22px;line-height:22px;color:#858585;letter-spacing:2.020px;">400k</span>
<span id="t43" class="t ax" style="left:1204.2px;top:818.1px;font-size:22px;line-height:22px;color:#858585;letter-spacing:2.020px;">300k</span>
<span id="t44" class="t ax" style="left:1204.2px;top:956.1px;font-size:22px;line-height:22px;color:#858585;letter-spacing:2.020px;">200k</span>
<span id="t45" class="t ax" style="left:1204.2px;top:1094.1px;font-size:22px;line-height:22px;color:#858585;letter-spacing:2.020px;">100k</span>
<span id="t46" class="t ax" style="left:1244.1px;top:1232.1px;font-size:22px;line-height:22px;color:#858585;">0</span>
<span id="t47" class="t ax" style="left:1296.9px;top:1264.6px;font-size:22px;line-height:22px;color:#858585;letter-spacing:2.242px;">2018</span>
<span id="t48" class="t ax" style="left:1617.7px;top:1264.6px;font-size:22px;line-height:22px;color:#858585;letter-spacing:2.576px;">2019</span>
<span id="t49" class="t ax" style="left:1940.0px;top:1264.6px;font-size:22px;line-height:22px;color:#858585;letter-spacing:2.242px;">2020</span>
<span id="t50" class="t ax" style="left:2261.9px;top:1264.6px;font-size:22px;line-height:22px;color:#858585;letter-spacing:1.309px;">2021</span>
<span id="t51" class="t ax" style="left:1494.6px;top:1328.9px;font-size:23.4px;line-height:23.4px;color:#7d7d7d;letter-spacing:0.797px;">Бытовая химия</span>
<span id="t52" class="t ax" style="left:1752.9px;top:1328.9px;font-size:23.4px;line-height:23.4px;color:#7d7d7d;letter-spacing:0.906px;">Бытовые товары</span>
<span id="t53" class="t ax" style="left:2028.9px;top:1328.9px;font-size:23.4px;line-height:23.4px;color:#7d7d7d;letter-spacing:1.599px;">Техника для дома</span>
</main>
<svg class="ic" style="left:0;top:0" width="2562" height="1442" viewBox="0 0 2562 1442">
<defs><clipPath id="lg"><circle cx="57" cy="57" r="32"/></clipPath><linearGradient id="lgg" x1="0" y1="0" x2="1" y2="0"><stop offset="0.28" stop-color="#dbe3ff"/><stop offset="0.62" stop-color="#fff"/></linearGradient></defs>
<circle cx="57" cy="57" r="32" fill="#5282ff"/>
<g clip-path="url(#lg)"><ellipse cx="40.5" cy="57" rx="38" ry="27.5" fill="url(#lgg)"/><path d="M20,46.5 C45,44.5 70,48 74.8,57 C70,66 45,69.5 20,67.5Z" fill="#5282ff"/></g>
<circle cx="46.2" cy="126.2" r="3.4" fill="#222"/>
<circle cx="57.4" cy="126.2" r="3.4" fill="#222"/>
<circle cx="68.6" cy="126.2" r="3.4" fill="#222"/>
<circle cx="46.2" cy="137.5" r="3.4" fill="#222"/>
<circle cx="57.4" cy="137.5" r="3.4" fill="#222"/>
<circle cx="68.6" cy="137.5" r="3.4" fill="#222"/>
<circle cx="46.2" cy="148.8" r="3.4" fill="#222"/>
<circle cx="57.4" cy="148.8" r="3.4" fill="#222"/>
<circle cx="68.6" cy="148.8" r="3.4" fill="#222"/>
<rect x="42.9" y="247.1" width="11" height="11" rx="2.6" fill="none" stroke="#67819f" stroke-width="3.3" stroke-linecap="round" stroke-linejoin="round"/>
<rect x="60.4" y="247.1" width="11" height="11" rx="2.6" fill="none" stroke="#67819f" stroke-width="3.3" stroke-linecap="round" stroke-linejoin="round"/>
<rect x="42.9" y="264.7" width="11" height="11" rx="2.6" fill="none" stroke="#67819f" stroke-width="3.3" stroke-linecap="round" stroke-linejoin="round"/>
<rect x="60.4" y="264.7" width="11" height="11" rx="2.6" fill="none" stroke="#67819f" stroke-width="3.3" stroke-linecap="round" stroke-linejoin="round"/>
<path d="M49.2,333.2 H47.5 Q41.2,333.2 41.2,339.5 V348 Q41.2,354.2 47.5,354.2 H61.5 Q67,354.2 67.6,349.3" fill="none" stroke="#67819f" stroke-width="3.3" stroke-linecap="round" stroke-linejoin="round"/>
<path d="M49.5,331 Q49.5,326.2 54.3,326.2 H56.6 Q58.6,326.2 59.6,327.8 L60.4,329.2 H68.6 Q73.6,329.2 73.6,334.2 V342.2 Q73.6,347.2 68.6,347.2 H54.5 Q49.5,347.2 49.5,342.2Z" fill="none" stroke="#67819f" stroke-width="3.3" stroke-linecap="round" stroke-linejoin="round"/>
<path d="M54.5,336.4 H67" fill="none" stroke="#67819f" stroke-width="3.3" stroke-linecap="round" stroke-linejoin="round"/>
<path d="M57.30,404.30 L61.77,414.45 L72.80,415.56 L64.53,422.95 L66.88,433.79 L57.30,428.20 L47.72,433.79 L50.07,422.95 L41.80,415.56 L52.83,414.45Z" fill="none" stroke="#67819f" stroke-width="3.3" stroke-linecap="round" stroke-linejoin="round"/>
<path d="M50.5,484.6 H61.6 Q63.6,484.6 63,486.6 L60.6,493.4 H69.6 Q72.6,493.4 70.6,495.8 L55.2,514.2 Q53,516.4 52.6,513.6 L55,503.6 H45.4 Q42.6,503.6 43.8,501 L49,486 Q49.5,484.6 50.5,484.6Z" fill="none" stroke="#67819f" stroke-width="3.3" stroke-linecap="round" stroke-linejoin="round"/>
<circle cx="52" cy="580.5" r="10.8" fill="none" stroke="#67819f" stroke-width="3.3" stroke-linecap="round" stroke-linejoin="round"/><circle cx="62.8" cy="580.5" r="10.8" fill="none" stroke="#67819f" stroke-width="3.3" stroke-linecap="round" stroke-linejoin="round"/>
<path d="M52,672.5 H45 Q42.3,672.5 42.3,669.8 V665.9 Q42.3,663.2 45,663.2 H52 M52,672.5 V658 Q52,655.4 54.7,655.4 H59.5 Q62.2,655.4 62.2,658 V672.5 M62.2,672.5 V650.8 Q62.2,648.1 64.9,648.1 H70.2 Q72.9,648.1 72.9,650.8 V669.8 Q72.9,672.5 70.2,672.5 H52" fill="none" stroke="#67819f" stroke-width="3.3" stroke-linecap="round" stroke-linejoin="round"/>
<rect x="43.3" y="728.1" width="28.2" height="24" rx="5" fill="none" stroke="#67819f" stroke-width="3.3" stroke-linecap="round" stroke-linejoin="round"/><path d="M57.4,728.1 V752.1 M43.3,740.1 H71.5" fill="none" stroke="#67819f" stroke-width="3.3" stroke-linecap="round" stroke-linejoin="round"/>
<path d="M42.3,812.5 Q42.3,807.5 47.3,807.5 H51.6 Q53.6,807.5 54.8,809 L56.6,811.3 H67.9 Q72.9,811.3 72.9,816.3 V827.1 Q72.9,832.1 67.9,832.1 H47.3 Q42.3,832.1 42.3,827.1Z" fill="none" stroke="#67819f" stroke-width="3.3" stroke-linecap="round" stroke-linejoin="round"/>
<path d="M52.3,820.6 L57.5,816.4 L62.7,820.6 V824.2 Q62.7,825.2 61.7,825.2 H53.3 Q52.3,825.2 52.3,824.2Z" fill="none" stroke="#67819f" stroke-width="3.3" stroke-linecap="round" stroke-linejoin="round"/>
<path d="M41,885.8 H44.6 Q46.6,885.8 47.1,887.8 L51.3,904.4 L68.6,899.6 Q71.6,898.6 71.6,895.6 V893.6 Q71.6,890.8 68.8,890.8 H48.4" fill="none" stroke="#67819f" stroke-width="3.3" stroke-linecap="round" stroke-linejoin="round"/>
<circle cx="46.2" cy="911.7" r="3.9" fill="#67819f"/><circle cx="66.3" cy="911.7" r="3.9" fill="#67819f"/>
<path d="M43,973.9 H47.5 M58,973.9 H71.6 M43,987.3 H56.8 M68,987.3 H71.6" fill="none" stroke="#67819f" stroke-width="3.3" stroke-linecap="round" stroke-linejoin="round"/>
<circle cx="52.8" cy="973.9" r="4.6" fill="none" stroke="#67819f" stroke-width="3.3" stroke-linecap="round" stroke-linejoin="round"/><circle cx="62.4" cy="987.3" r="4.6" fill="none" stroke="#67819f" stroke-width="3.3" stroke-linecap="round" stroke-linejoin="round"/>
<path d="M49,1103.5 V1098.5 Q49,1089.6 57.6,1089.6 Q66.2,1089.6 66.2,1098.5 V1103.5 L70,1110 Q71.2,1113.4 67.6,1113.4 H47.6 Q44,1113.4 45.2,1110Z" fill="none" stroke="#262626" stroke-width="3" stroke-linecap="round" stroke-linejoin="round"/>
<path d="M53.2,1115 Q57.6,1121 62,1115Z" fill="#262626" stroke="#262626" stroke-width="1.5" stroke-linejoin="round"/>
<circle cx="57.3" cy="1183.5" r="14.3" fill="none" stroke="#262626" stroke-width="3" stroke-linecap="round" stroke-linejoin="round"/>
<path d="M53.3,1179.3 Q53.3,1175.6 57.3,1175.6 Q61.3,1175.6 61.3,1179.1 Q61.3,1181.4 59.1,1182.7 Q57.3,1183.8 57.3,1185.6" fill="none" stroke="#262626" stroke-width="3" stroke-linecap="round" stroke-linejoin="round"/>
<circle cx="57.3" cy="1190.4" r="2" fill="#262626"/>
<path d="M67.93,1264.00 L67.93,1263.72 L67.93,1263.44 L67.93,1263.16 L67.95,1262.88 L68.01,1262.59 L68.18,1262.28 L68.59,1261.91 L69.36,1261.44 L70.41,1260.85 L71.26,1260.26 L71.69,1259.74 L71.80,1259.29 L71.76,1258.88 L71.65,1258.49 L71.52,1258.11 L71.36,1257.74 L71.20,1257.37 L71.02,1257.01 L70.83,1256.65 L70.64,1256.30 L70.43,1255.95 L70.21,1255.61 L69.99,1255.28 L69.75,1254.95 L69.51,1254.63 L69.25,1254.33 L68.96,1254.04 L68.63,1253.80 L68.18,1253.67 L67.52,1253.78 L66.58,1254.22 L65.55,1254.83 L64.75,1255.27 L64.23,1255.44 L63.88,1255.43 L63.59,1255.34 L63.34,1255.21 L63.10,1255.07 L62.86,1254.93 L62.62,1254.79 L62.37,1254.65 L62.13,1254.52 L61.89,1254.37 L61.66,1254.22 L61.43,1254.02 L61.25,1253.72 L61.13,1253.18 L61.11,1252.27 L61.13,1251.07 L61.04,1250.04 L60.80,1249.41 L60.47,1249.09 L60.09,1248.92 L59.70,1248.82 L59.31,1248.74 L58.91,1248.69 L58.51,1248.65 L58.11,1248.62 L57.70,1248.61 L57.30,1248.60 L56.90,1248.61 L56.49,1248.62 L56.09,1248.65 L55.69,1248.69 L55.29,1248.74 L54.90,1248.82 L54.51,1248.92 L54.13,1249.09 L53.80,1249.41 L53.56,1250.04 L53.47,1251.07 L53.49,1252.27 L53.47,1253.18 L53.35,1253.72 L53.17,1254.02 L52.94,1254.22 L52.71,1254.37 L52.47,1254.52 L52.23,1254.65 L51.98,1254.79 L51.74,1254.93 L51.50,1255.07 L51.26,1255.21 L51.01,1255.34 L50.72,1255.43 L50.37,1255.44 L49.85,1255.27 L49.05,1254.83 L48.02,1254.22 L47.08,1253.78 L46.42,1253.67 L45.97,1253.80 L45.64,1254.04 L45.35,1254.33 L45.09,1254.63 L44.85,1254.95 L44.61,1255.28 L44.39,1255.61 L44.17,1255.95 L43.96,1256.30 L43.77,1256.65 L43.58,1257.01 L43.40,1257.37 L43.24,1257.74 L43.08,1258.11 L42.95,1258.49 L42.84,1258.88 L42.80,1259.29 L42.91,1259.74 L43.34,1260.26 L44.19,1260.85 L45.24,1261.44 L46.01,1261.91 L46.42,1262.28 L46.59,1262.59 L46.65,1262.88 L46.67,1263.16 L46.67,1263.44 L46.67,1263.72 L46.67,1264.00 L46.67,1264.28 L46.67,1264.56 L46.67,1264.84 L46.65,1265.12 L46.59,1265.41 L46.42,1265.72 L46.01,1266.09 L45.24,1266.56 L44.19,1267.15 L43.34,1267.74 L42.91,1268.26 L42.80,1268.71 L42.84,1269.12 L42.95,1269.51 L43.08,1269.89 L43.24,1270.26 L43.40,1270.63 L43.58,1270.99 L43.77,1271.35 L43.96,1271.70 L44.17,1272.05 L44.39,1272.39 L44.61,1272.72 L44.85,1273.05 L45.09,1273.37 L45.35,1273.67 L45.64,1273.96 L45.97,1274.20 L46.42,1274.33 L47.08,1274.22 L48.02,1273.78 L49.05,1273.17 L49.85,1272.73 L50.37,1272.56 L50.72,1272.57 L51.01,1272.66 L51.26,1272.79 L51.50,1272.93 L51.74,1273.07 L51.98,1273.21 L52.23,1273.35 L52.47,1273.48 L52.71,1273.63 L52.94,1273.78 L53.17,1273.98 L53.35,1274.28 L53.47,1274.82 L53.49,1275.73 L53.47,1276.93 L53.56,1277.96 L53.80,1278.59 L54.13,1278.91 L54.51,1279.08 L54.90,1279.18 L55.29,1279.26 L55.69,1279.31 L56.09,1279.35 L56.49,1279.38 L56.90,1279.39 L57.30,1279.40 L57.70,1279.39 L58.11,1279.38 L58.51,1279.35 L58.91,1279.31 L59.31,1279.26 L59.70,1279.18 L60.09,1279.08 L60.47,1278.91 L60.80,1278.59 L61.04,1277.96 L61.13,1276.93 L61.11,1275.73 L61.13,1274.82 L61.25,1274.28 L61.43,1273.98 L61.66,1273.78 L61.89,1273.63 L62.13,1273.48 L62.37,1273.35 L62.62,1273.21 L62.86,1273.07 L63.10,1272.93 L63.34,1272.79 L63.59,1272.66 L63.88,1272.57 L64.23,1272.56 L64.75,1272.73 L65.55,1273.17 L66.58,1273.78 L67.52,1274.22 L68.18,1274.33 L68.63,1274.20 L68.96,1273.96 L69.25,1273.67 L69.51,1273.37 L69.75,1273.05 L69.99,1272.72 L70.21,1272.39 L70.43,1272.05 L70.64,1271.70 L70.83,1271.35 L71.02,1270.99 L71.20,1270.63 L71.36,1270.26 L71.52,1269.89 L71.65,1269.51 L71.76,1269.12 L71.80,1268.71 L71.69,1268.26 L71.26,1267.74 L70.41,1267.15 L69.36,1266.56 L68.59,1266.09 L68.18,1265.72 L68.01,1265.41 L67.95,1265.12 L67.93,1264.84 L67.93,1264.56 L67.93,1264.28Z" fill="none" stroke="#262626" stroke-width="3" stroke-linecap="round" stroke-linejoin="round"/><circle cx="57.3" cy="1264" r="5" fill="none" stroke="#262626" stroke-width="3" stroke-linecap="round" stroke-linejoin="round"/>
<path d="M1,1400.2 H112" stroke="#e3e3e3" stroke-width="2"/>
<path d="M47,1411.3 L65.2,1420.5 L47,1429.7Z" fill="#808080"/>
<path d="M842.60,23.70 L846.83,32.58 L856.58,33.86 L849.45,40.62 L851.24,50.29 L842.60,45.60 L833.96,50.29 L835.75,40.62 L828.62,33.86 L838.37,32.58Z" fill="none" stroke="#808080" stroke-width="3.2" stroke-linecap="round" stroke-linejoin="round"/>
<circle cx="897.3" cy="38.1" r="3.3" fill="#808080"/>
<circle cx="908.5" cy="38.1" r="3.3" fill="#808080"/>
<circle cx="919.7" cy="38.1" r="3.3" fill="#808080"/>
<path d="M2001.9,29.3 L1995.6,35.6 L2001.9,41.9 M1995.6,35.6 H2007.9 A8,8 0 0 1 2007.9,51.5 H2005.2" fill="none" stroke="#b0b0b0" stroke-width="3.2" stroke-linecap="round" stroke-linejoin="round"/>
<path d="M2065.6,29.3 L2072.3,35.6 L2065.6,41.9 M2072.3,35.6 H2059.7 A8,8 0 0 0 2059.7,51.5 H2062.3" fill="none" stroke="#b0b0b0" stroke-width="3.2" stroke-linecap="round" stroke-linejoin="round"/>
<path d="M2128,30.6 H2139.6 V41.9 M2118.4,40.5 V51.5 H2129.7" fill="none" stroke="#1f1f1f" stroke-width="3.3" stroke-linecap="round" stroke-linejoin="round"/>
<path d="M2485,37.5 L2493.8,46.2 L2502.6,37.5" fill="none" stroke="#fff" stroke-width="3.3" stroke-linecap="round" stroke-linejoin="round"/>
<path d="M161.8,116.8 L173,127.6 L184.4,116.8" fill="none" stroke="#262626" stroke-width="3.4" stroke-linecap="round" stroke-linejoin="round"/>
<path d="M529,222.8 H550 M539.5,212.3 V233.3" fill="none" stroke="#333" stroke-width="3" stroke-linecap="round" stroke-linejoin="round"/>
<path d="M601.5,185 L608.3,177 L615,185Z" fill="#e4e4e4"/>
<path d="M601.8,1421 L608.6,1428.5 L615.3,1421Z" fill="#e4e4e4"/>
<path d="M1115,185 L1121.9,177 L1128.8,185Z" fill="#e4e4e4"/>
<path d="M1115,1407.5 L1121.9,1415 L1128.8,1407.5Z" fill="#e4e4e4"/>
<path d="M670.4,133.3 L681.2,119.1 L686.2,122.9 L696.2,109.1 L701.6,113.3 L710.8,102.1 V113.7 L701.2,123.7 L696.6,122 L693.3,123.3 L686.2,128.9 L681.2,127.9 L678.3,129.1 L670.6,134.9Z" fill="#1a82e2"/>
<path d="M671,138.7 L681.2,131.2 L686.6,132.4 L696.6,125.4 L701.6,127 L710.8,117.9 V138.7Z" fill="#ff4d4f"/>
<path d="M1085.63,121.30 L1085.63,121.02 L1085.63,120.74 L1085.63,120.46 L1085.65,120.18 L1085.71,119.89 L1085.88,119.58 L1086.29,119.21 L1087.06,118.74 L1088.11,118.15 L1088.96,117.56 L1089.39,117.04 L1089.50,116.59 L1089.46,116.18 L1089.35,115.79 L1089.22,115.41 L1089.06,115.04 L1088.90,114.67 L1088.72,114.31 L1088.53,113.95 L1088.34,113.60 L1088.13,113.25 L1087.91,112.91 L1087.69,112.58 L1087.45,112.25 L1087.21,111.93 L1086.95,111.63 L1086.66,111.34 L1086.33,111.10 L1085.88,110.97 L1085.22,111.08 L1084.28,111.52 L1083.25,112.13 L1082.45,112.57 L1081.93,112.74 L1081.58,112.73 L1081.29,112.64 L1081.04,112.51 L1080.80,112.37 L1080.56,112.23 L1080.32,112.09 L1080.07,111.95 L1079.83,111.82 L1079.59,111.67 L1079.36,111.52 L1079.13,111.32 L1078.95,111.02 L1078.83,110.48 L1078.81,109.57 L1078.83,108.37 L1078.74,107.34 L1078.50,106.71 L1078.17,106.39 L1077.79,106.22 L1077.40,106.12 L1077.01,106.04 L1076.61,105.99 L1076.21,105.95 L1075.81,105.92 L1075.40,105.91 L1075.00,105.90 L1074.60,105.91 L1074.19,105.92 L1073.79,105.95 L1073.39,105.99 L1072.99,106.04 L1072.60,106.12 L1072.21,106.22 L1071.83,106.39 L1071.50,106.71 L1071.26,107.34 L1071.17,108.37 L1071.19,109.57 L1071.17,110.48 L1071.05,111.02 L1070.87,111.32 L1070.64,111.52 L1070.41,111.67 L1070.17,111.82 L1069.93,111.95 L1069.68,112.09 L1069.44,112.23 L1069.20,112.37 L1068.96,112.51 L1068.71,112.64 L1068.42,112.73 L1068.07,112.74 L1067.55,112.57 L1066.75,112.13 L1065.72,111.52 L1064.78,111.08 L1064.12,110.97 L1063.67,111.10 L1063.34,111.34 L1063.05,111.63 L1062.79,111.93 L1062.55,112.25 L1062.31,112.58 L1062.09,112.91 L1061.87,113.25 L1061.66,113.60 L1061.47,113.95 L1061.28,114.31 L1061.10,114.67 L1060.94,115.04 L1060.78,115.41 L1060.65,115.79 L1060.54,116.18 L1060.50,116.59 L1060.61,117.04 L1061.04,117.56 L1061.89,118.15 L1062.94,118.74 L1063.71,119.21 L1064.12,119.58 L1064.29,119.89 L1064.35,120.18 L1064.37,120.46 L1064.37,120.74 L1064.37,121.02 L1064.37,121.30 L1064.37,121.58 L1064.37,121.86 L1064.37,122.14 L1064.35,122.42 L1064.29,122.71 L1064.12,123.02 L1063.71,123.39 L1062.94,123.86 L1061.89,124.45 L1061.04,125.04 L1060.61,125.56 L1060.50,126.01 L1060.54,126.42 L1060.65,126.81 L1060.78,127.19 L1060.94,127.56 L1061.10,127.93 L1061.28,128.29 L1061.47,128.65 L1061.66,129.00 L1061.87,129.35 L1062.09,129.69 L1062.31,130.02 L1062.55,130.35 L1062.79,130.67 L1063.05,130.97 L1063.34,131.26 L1063.67,131.50 L1064.12,131.63 L1064.78,131.52 L1065.72,131.08 L1066.75,130.47 L1067.55,130.03 L1068.07,129.86 L1068.42,129.87 L1068.71,129.96 L1068.96,130.09 L1069.20,130.23 L1069.44,130.37 L1069.68,130.51 L1069.93,130.65 L1070.17,130.78 L1070.41,130.93 L1070.64,131.08 L1070.87,131.28 L1071.05,131.58 L1071.17,132.12 L1071.19,133.03 L1071.17,134.23 L1071.26,135.26 L1071.50,135.89 L1071.83,136.21 L1072.21,136.38 L1072.60,136.48 L1072.99,136.56 L1073.39,136.61 L1073.79,136.65 L1074.19,136.68 L1074.60,136.69 L1075.00,136.70 L1075.40,136.69 L1075.81,136.68 L1076.21,136.65 L1076.61,136.61 L1077.01,136.56 L1077.40,136.48 L1077.79,136.38 L1078.17,136.21 L1078.50,135.89 L1078.74,135.26 L1078.83,134.23 L1078.81,133.03 L1078.83,132.12 L1078.95,131.58 L1079.13,131.28 L1079.36,131.08 L1079.59,130.93 L1079.83,130.78 L1080.07,130.65 L1080.32,130.51 L1080.56,130.37 L1080.80,130.23 L1081.04,130.09 L1081.29,129.96 L1081.58,129.87 L1081.93,129.86 L1082.45,130.03 L1083.25,130.47 L1084.28,131.08 L1085.22,131.52 L1085.88,131.63 L1086.33,131.50 L1086.66,131.26 L1086.95,130.97 L1087.21,130.67 L1087.45,130.35 L1087.69,130.02 L1087.91,129.69 L1088.13,129.35 L1088.34,129.00 L1088.53,128.65 L1088.72,128.29 L1088.90,127.93 L1089.06,127.56 L1089.22,127.19 L1089.35,126.81 L1089.46,126.42 L1089.50,126.01 L1089.39,125.56 L1088.96,125.04 L1088.11,124.45 L1087.06,123.86 L1086.29,123.39 L1085.88,123.02 L1085.71,122.71 L1085.65,122.42 L1085.63,122.14 L1085.63,121.86 L1085.63,121.58Z" fill="none" stroke="#4a4a4a" stroke-width="3.1" stroke-linecap="round" stroke-linejoin="round"/><circle cx="1075" cy="121.3" r="5.05" fill="none" stroke="#4a4a4a" stroke-width="3.1" stroke-linecap="round" stroke-linejoin="round"/>
<path d="M678.1,219.6 H705.2 M696.5,209.9 L705.3,219.6 L696.5,229.3" fill="none" stroke="#4a4a4a" stroke-width="3.2" stroke-linecap="round" stroke-linejoin="round"/>
<path d="M691.4,437.6 V411 M682,420.3 L691.4,410.7 L700.8,420.3" fill="none" stroke="#4a4a4a" stroke-width="3.2" stroke-linecap="round" stroke-linejoin="round"/>
<ellipse cx="694" cy="620.8" rx="10.5" ry="4.7" transform="rotate(43 694 620.8)" fill="none" stroke="#4a4a4a" stroke-width="3.2" stroke-linecap="round" stroke-linejoin="round"/>
<path d="M686.3,613.6 L675.9,628.4 Q674.2,631.6 676.6,633.8 L682.2,638.6 Q684.6,640.4 687.3,638.8 L701.8,629.2" fill="none" stroke="#4a4a4a" stroke-width="3.2" stroke-linecap="round" stroke-linejoin="round"/>
<path d="M676.3,630.6 H695.5 L701.5,629.4 L687.3,638.8 Q684.6,640.4 682.2,638.6 L676.6,633.8 Q675.2,632.4 676.3,630.6Z" fill="#4a4a4a" stroke="#4a4a4a" stroke-width="1" stroke-linejoin="round"/>
<path d="M702.1,633.9 C704.5,637.4 706,639.4 706,641.2 A3.9,3.9 0 0 1 698.2,641.2 C698.2,639.4 699.7,637.4 702.1,633.9Z" fill="#4a4a4a"/>
<path d="M676.6,823.6 H705.4 M676.6,834.2 H695.5 M676.6,844.3 H682.6" fill="none" stroke="#4a4a4a" stroke-width="3.2" stroke-linecap="round" stroke-linejoin="round"/>
<path d="M682.6,1035.4 L691.8,1013.6 L701,1035.4 M685.8,1028.2 H697.8" fill="none" stroke="#4a4a4a" stroke-width="3.2" stroke-linecap="round" stroke-linejoin="round"/>
<rect x="676.5" y="1200.5" width="29.2" height="24" rx="5" fill="none" stroke="#4a4a4a" stroke-width="3.2" stroke-linecap="round" stroke-linejoin="round"/><path d="M676.5,1212.5 H705.7" fill="none" stroke="#4a4a4a" stroke-width="3.2" stroke-linecap="round" stroke-linejoin="round"/>
<ellipse cx="691.2" cy="1394.6" rx="12.3" ry="4.7" fill="none" stroke="#4a4a4a" stroke-width="3.2" stroke-linecap="round" stroke-linejoin="round"/>
<path d="M678.9,1394.6 C678.9,1398.5 683,1401.5 687.4,1406.5 V1416 Q687.4,1418 689.4,1418 H693 Q695,1418 695,1416 V1406.5 C699.4,1401.5 703.5,1398.5 703.5,1394.6" fill="none" stroke="#4a4a4a" stroke-width="3.2" stroke-linecap="round" stroke-linejoin="round"/>
<rect x="703.4" y="290.0" width="22.9" height="20.9" rx="5.5" fill="none" stroke="#31b62e" stroke-width="3" stroke-linecap="round" stroke-linejoin="round"/><path d="M703.5,298.0 H726.3 M709.4,287.0 V293.0 M720.4,287.0 V293.0" fill="none" stroke="#31b62e" stroke-width="3" stroke-linecap="round" stroke-linejoin="round"/>
<path d="M704.0,499.7 H726.8 M702.8,508.3 H725.5 M712.1,493.2 L708.2,514.8 M721.4,493.2 L717.5,514.8" fill="none" stroke="#4a73f0" stroke-width="3.1" stroke-linecap="round" stroke-linejoin="round"/>
<rect x="703.6" y="697.0" width="22.8" height="22.8" rx="5" fill="none" stroke="#31b62e" stroke-width="3" stroke-linecap="round" stroke-linejoin="round"/><path d="M711.0,703.4 H719.0 M715.0,703.4 V713.7" fill="none" stroke="#31b62e" stroke-width="3" stroke-linecap="round" stroke-linejoin="round"/>
<path d="M992.8,288.1 Q990.4,287.2 989.2,288.6 Q988,290 987.9,293 L987.2,302.6 Q987,306 983.2,305.6 M984.7,293.9 H991.8" fill="none" stroke="#31b62e" stroke-width="2.5" stroke-linecap="round" stroke-linejoin="round"/>
<path d="M995.8,291.9 Q992.6,298 995.8,303.9 M1007,291.9 Q1010.2,298 1007,303.9 M999.2,295.4 L1003.7,300.7 M1003.7,295.4 L999.2,300.7" fill="none" stroke="#31b62e" stroke-width="2.5" stroke-linecap="round" stroke-linejoin="round"/>
<rect x="141.6" y="351.6" width="22.8" height="22.8" rx="5" fill="none" stroke="#31b62e" stroke-width="3" stroke-linecap="round" stroke-linejoin="round"/><path d="M149.0,358.0 H157.0 M153.0,358.0 V368.3" fill="none" stroke="#31b62e" stroke-width="3" stroke-linecap="round" stroke-linejoin="round"/>
<rect x="141.6" y="426.5" width="22.8" height="22.8" rx="5" fill="none" stroke="#31b62e" stroke-width="3" stroke-linecap="round" stroke-linejoin="round"/><path d="M149.0,432.9 H157.0 M153.0,432.9 V443.2" fill="none" stroke="#31b62e" stroke-width="3" stroke-linecap="round" stroke-linejoin="round"/>
<rect x="141.6" y="503.3" width="22.8" height="22.8" rx="5" fill="none" stroke="#31b62e" stroke-width="3" stroke-linecap="round" stroke-linejoin="round"/><path d="M149.0,509.7 H157.0 M153.0,509.7 V520.0" fill="none" stroke="#31b62e" stroke-width="3" stroke-linecap="round" stroke-linejoin="round"/>
<rect x="141.6" y="582.3" width="22.9" height="20.9" rx="5.5" fill="none" stroke="#31b62e" stroke-width="3" stroke-linecap="round" stroke-linejoin="round"/><path d="M141.6,590.3 H164.4 M147.6,579.3 V585.3 M158.4,579.3 V585.3" fill="none" stroke="#31b62e" stroke-width="3" stroke-linecap="round" stroke-linejoin="round"/>
<rect x="141.6" y="654.7" width="22.8" height="22.8" rx="5" fill="none" stroke="#31b62e" stroke-width="3" stroke-linecap="round" stroke-linejoin="round"/><path d="M149.0,661.1 H157.0 M153.0,661.1 V671.4" fill="none" stroke="#31b62e" stroke-width="3" stroke-linecap="round" stroke-linejoin="round"/>
<rect x="141.6" y="729.7" width="22.8" height="22.8" rx="5" fill="none" stroke="#31b62e" stroke-width="3" stroke-linecap="round" stroke-linejoin="round"/><path d="M149.0,736.1 H157.0 M153.0,736.1 V746.4" fill="none" stroke="#31b62e" stroke-width="3" stroke-linecap="round" stroke-linejoin="round"/>
<rect x="141.6" y="806.6" width="22.8" height="22.8" rx="5" fill="none" stroke="#31b62e" stroke-width="3" stroke-linecap="round" stroke-linejoin="round"/><path d="M149.0,813.0 H157.0 M153.0,813.0 V823.3" fill="none" stroke="#31b62e" stroke-width="3" stroke-linecap="round" stroke-linejoin="round"/>
<rect x="141.6" y="881.7" width="22.8" height="22.8" rx="5" fill="none" stroke="#31b62e" stroke-width="3" stroke-linecap="round" stroke-linejoin="round"/><path d="M149.0,888.1 H157.0 M153.0,888.1 V898.4" fill="none" stroke="#31b62e" stroke-width="3" stroke-linecap="round" stroke-linejoin="round"/>
<rect x="141.6" y="957.7" width="22.8" height="22.8" rx="5" fill="none" stroke="#31b62e" stroke-width="3" stroke-linecap="round" stroke-linejoin="round"/><path d="M149.0,964.1 H157.0 M153.0,964.1 V974.4" fill="none" stroke="#31b62e" stroke-width="3" stroke-linecap="round" stroke-linejoin="round"/>
<rect x="141.6" y="1033.9" width="22.8" height="22.8" rx="5" fill="none" stroke="#31b62e" stroke-width="3" stroke-linecap="round" stroke-linejoin="round"/><path d="M149.0,1040.3 H157.0 M153.0,1040.3 V1050.6" fill="none" stroke="#31b62e" stroke-width="3" stroke-linecap="round" stroke-linejoin="round"/>
<rect x="141.6" y="1111.0" width="22.8" height="22.8" rx="5" fill="none" stroke="#31b62e" stroke-width="3" stroke-linecap="round" stroke-linejoin="round"/><path d="M161.6,1112.4 L145.4,1132.4 M142.1,1114.0 L156.0,1119.4" fill="none" stroke="#31b62e" stroke-width="3" stroke-linecap="round" stroke-linejoin="round"/><circle cx="156.0" cy="1119.4" r="4.9" fill="#31b62e"/><circle cx="147.7" cy="1126.2" r="2.9" fill="#31b62e"/>
<rect x="141.6" y="1186.0" width="22.8" height="22.8" rx="5" fill="none" stroke="#31b62e" stroke-width="3" stroke-linecap="round" stroke-linejoin="round"/><path d="M149.0,1192.4 H157.0 M153.0,1192.4 V1202.7" fill="none" stroke="#31b62e" stroke-width="3" stroke-linecap="round" stroke-linejoin="round"/>
<rect x="141.6" y="1262.6" width="22.8" height="22.8" rx="5" fill="none" stroke="#31b62e" stroke-width="3" stroke-linecap="round" stroke-linejoin="round"/><path d="M149.0,1269.0 H157.0 M153.0,1269.0 V1279.3" fill="none" stroke="#31b62e" stroke-width="3" stroke-linecap="round" stroke-linejoin="round"/>
<path d="M142.0,1428.2 H164.8 M140.8,1436.8 H163.5 M150.1,1421.7 L146.2,1443.3 M159.4,1421.7 L155.5,1443.3" fill="none" stroke="#4a73f0" stroke-width="3.1" stroke-linecap="round" stroke-linejoin="round"/>
</svg><div id="hdrline"></div><div id="frame"></div>
</div>
</body></html>
